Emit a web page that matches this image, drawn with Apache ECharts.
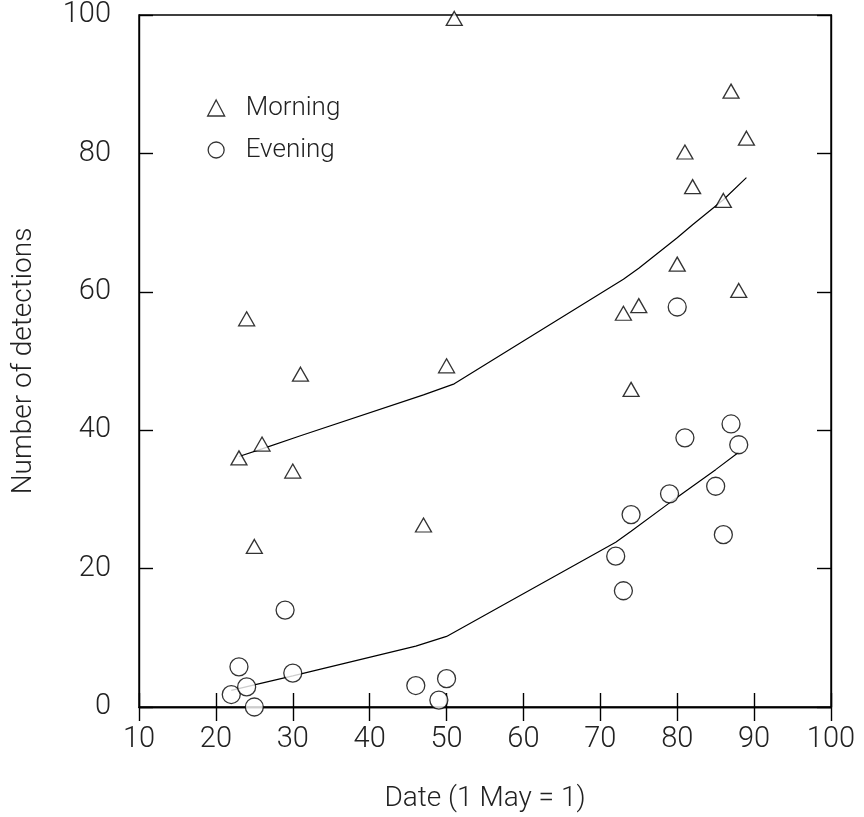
<!DOCTYPE html>
<html>
<head>
<meta charset="utf-8">
<script src="https://cdn.jsdelivr.net/npm/echarts@6/dist/echarts.min.js"></script>
<style>
html,body{margin:0;padding:0;background:#fff;}
#chart{width:864px;height:817px;}
</style>
</head>
<body>
<div id="chart"></div>
<script>
// Morning detections: [date, count]
const morningDates  = [23, 24, 25, 26, 30, 31, 47, 50, 51, 73, 74, 75, 80, 81, 82, 86, 87, 88, 89];
const morningCounts = [36.0, 56.1, 23.2, 38.0, 34.1, 48.1, 26.3, 49.3, 99.5, 56.9, 45.9, 58.0, 64.0, 80.2, 75.2, 73.2, 89.0, 60.2, 82.2];
// Evening detections
const eveningDates  = [22, 23, 24, 25, 29, 30, 46, 49, 50, 72, 73, 74, 79, 80, 81, 85, 86, 87, 88];
const eveningCounts = [1.8, 5.8, 2.9, 0.0, 14.0, 4.9, 3.1, 1.0, 4.1, 21.8, 16.8, 27.8, 30.8, 57.8, 38.9, 31.9, 24.9, 40.9, 37.9];
// Fitted trend lines
const morningFitDates  = [23, 26, 31, 47, 51, 73, 75, 80, 82, 86, 89];
const morningFitValues = [36.2, 37.3, 39.2, 45.1, 46.7, 61.8, 63.4, 67.8, 69.7, 73.3, 76.5];
const eveningFitDates  = [22, 25, 30, 46, 50, 72, 74, 79, 81, 85, 88];
const eveningFitValues = [2.4, 3.2, 4.5, 8.8, 10.2, 23.8, 25.4, 29.5, 31.1, 34.3, 36.8];

const xTicks = [10, 20, 30, 40, 50, 60, 70, 80, 90, 100];
const yTicks = [0, 20, 40, 60, 80, 100];

const zip = (a, b) => a.map((v, i) => [v, b[i]]);

const FONT = 'Roboto';
const TXT = '#222';
const hollow = {color: '#fff', borderColor: '#000', borderWidth: 1.3};

const chart = echarts.init(document.getElementById('chart'), null, {renderer: 'canvas'});
chart.setOption({
  backgroundColor: '#fff',
  animation: false,
  grid: {left: 139, right: 33, top: 15, bottom: 110, containLabel: false, outerBoundsMode: 'none',
         show: true, borderColor: '#000', borderWidth: 1.4, backgroundColor: 'transparent'},
  legend: {
    orient: 'vertical',
    left: 202,
    top: 87,
    itemWidth: 17,
    itemHeight: 16,
    itemGap: 10,
    textStyle: {fontFamily: FONT, fontWeight: 300, fontSize: 26, color: TXT, padding: [0, 0, 0, 16], lineHeight: 32},
    data: [
      {name: 'Morning', icon: 'triangle', itemStyle: hollow},
      {name: 'Evening', icon: 'circle', itemStyle: hollow}
    ]
  },
  xAxis: [{
    type: 'value', min: xTicks[0], max: xTicks[xTicks.length - 1], interval: 10,
    name: 'Date (1 May = 1)', nameLocation: 'middle', nameGap: 78,
    nameTextStyle: {fontFamily: FONT, fontWeight: 300, fontSize: 28, color: TXT},
    axisLine: {show: true, lineStyle: {color: '#000', width: 1.4}},
    axisTick: {show: true, inside: true, length: 14, lineStyle: {color: '#000', width: 1.4}},
    axisLabel: {fontFamily: FONT, fontWeight: 300, fontSize: 29, color: TXT, margin: 18},
    splitLine: {show: false}
  }, {
    type: 'value', position: 'top', min: xTicks[0], max: xTicks[xTicks.length - 1], interval: 10,
    axisLine: {show: true, lineStyle: {color: '#000', width: 1.4}},
    axisTick: {show: true, inside: true, length: 14, lineStyle: {color: '#000', width: 1.4}},
    axisLabel: {show: false}, splitLine: {show: false}
  }],
  yAxis: [{
    type: 'value', min: yTicks[0], max: yTicks[yTicks.length - 1], interval: 20,
    name: 'Number of detections', nameLocation: 'middle', nameGap: 101,
    nameTextStyle: {fontFamily: FONT, fontWeight: 300, fontSize: 28, color: TXT},
    axisLine: {show: true, lineStyle: {color: '#000', width: 1.4}},
    axisTick: {show: true, inside: true, length: 14, lineStyle: {color: '#000', width: 1.4}},
    axisLabel: {fontFamily: FONT, fontWeight: 300, fontSize: 29, color: TXT, margin: 28},
    splitLine: {show: false}
  }, {
    type: 'value', position: 'right', min: yTicks[0], max: yTicks[yTicks.length - 1], interval: 20,
    axisLine: {show: true, lineStyle: {color: '#000', width: 1.4}},
    axisTick: {show: true, inside: true, length: 14, lineStyle: {color: '#000', width: 1.4}},
    axisLabel: {show: false}, splitLine: {show: false}
  }],
  series: [
    {name: 'Morning', type: 'scatter', symbol: 'triangle', symbolSize: [16, 14],
     itemStyle: hollow, data: zip(morningDates, morningCounts), z: 3},
    {name: 'Evening', type: 'scatter', symbol: 'circle', symbolSize: 18,
     itemStyle: hollow, data: zip(eveningDates, eveningCounts), z: 3},
    {name: 'Morning fit', type: 'line', symbol: 'none', lineStyle: {color: '#000', width: 1.2},
     data: zip(morningFitDates, morningFitValues), z: 2},
    {name: 'Evening fit', type: 'line', symbol: 'none', lineStyle: {color: '#000', width: 1.2},
     data: zip(eveningFitDates, eveningFitValues), z: 2}
  ]
});
</script>
</body>
</html>
